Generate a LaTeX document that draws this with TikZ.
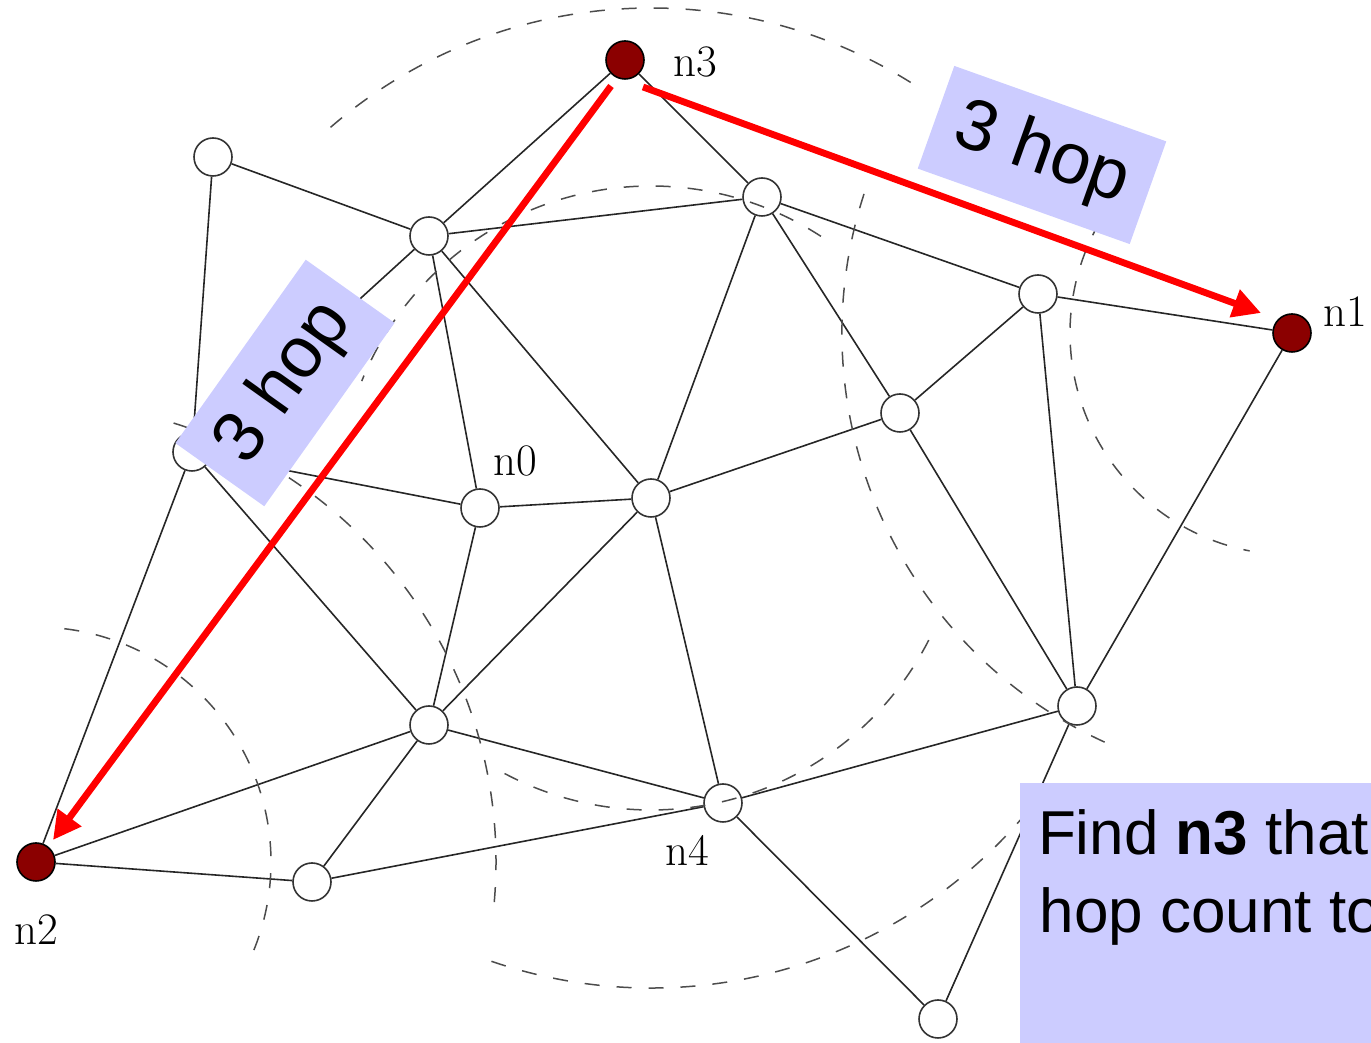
\documentclass[tikz,border=0pt]{standalone}
\usepackage{fontspec}
\usetikzlibrary{arrows.meta,calc}
\newfontfamily\sansA{Liberation Sans}
\definecolor{boxblue}{RGB}{204,204,255}
\definecolor{darkred}{RGB}{139,0,0}
\newcommand\hopfont{\sansA\fontsize{36}{40}\selectfont}
\newcommand\qfont{\sansA\fontsize{31}{39}\selectfont}
\newcommand\lblfont{\fontsize{22.5}{27}\selectfont}
\tikzset{
  relay/.style={circle, draw=black!80, line width=0.8pt, fill=white, minimum size=19pt, inner sep=0pt},
  anchornode/.style={relay, fill=darkred, draw=black},
  link/.style={line width=0.8pt, draw=black!85},
  ring/.style={line width=0.75pt, draw=black!70, dash pattern=on 7.5pt off 8.5pt},
  hoparrow/.style={line width=3.4pt, draw=red, -{Triangle[length=14pt,width=14pt]}},
  hopbox/.style={fill=boxblue, minimum width=112.5pt, minimum height=54.5pt, inner sep=0pt, font=\hopfont},
  lbl/.style={font=\lblfont, inner sep=0pt},
}
\begin{document}
\begin{tikzpicture}[x=0.5pt,y=0.5pt]
\path[use as bounding box] (0,0) rectangle (1371,1043);
\clip (0,0) rectangle (1371,1043);

% nodes
\node[anchornode] (n3) at (625,983) {};
\node[anchornode] (n1) at (1292,710) {};
\node[anchornode] (n2) at (36,181) {};
\node[relay] (n0) at (480,535) {};
\node[relay] (n4) at (723,240) {};
\node[relay] (a) at (213,886) {};
\node[relay] (b) at (429,807) {};
\node[relay] (c) at (762,846) {};
\node[relay] (d) at (1038,749) {};
\node[relay] (e) at (900,630) {};
\node[relay] (f) at (192,591) {};
\node[relay] (g) at (651,545) {};
\node[relay] (h) at (429,318) {};
\node[relay] (i) at (1077,337) {};
\node[relay] (j) at (312,161) {};
\node[relay] (k) at (938,24) {};

% links
\foreach \u/\v in {a/b, a/f, b/n3, b/c, b/f, b/n0, b/g, n3/c, c/d, c/e, c/g,
                   d/n1, d/e, d/i, n1/i, e/g, e/i, f/n0, f/h, f/n2, n0/g, n0/h,
                   g/h, g/n4, h/n2, h/j, h/n4, n2/j, j/n4, n4/i, n4/k, i/k}
  \draw[link] (\u) -- (\v);

% range rings
\draw[ring] ([shift={(57:312)}]g.center) arc[start angle=57, end angle=158, radius=312];
\draw[ring] ([shift={(242:312)}]g.center) arc[start angle=242, end angle=334, radius=312];
\draw[ring] ([shift={(58:490)}]g.center) arc[start angle=58, end angle=132, radius=490];
\draw[ring] ([shift={(251:490)}]g.center) arc[start angle=251, end angle=322, radius=490];
\draw[ring] ([shift={(162:450)}]n1.center) arc[start angle=162, end angle=247, radius=450];
\draw[ring] ([shift={(150:222)}]n1.center) arc[start angle=150, end angle=259, radius=222];
\draw[ring] ([shift={(-22:235)}]n2.center) arc[start angle=-22, end angle=87, radius=235];
\draw[ring] ([shift={(-5:460)}]n2.center) arc[start angle=-5, end angle=74, radius=460];

% red hop arrows
\coordinate (s1) at ($(n3)+(18,-27)$);
\coordinate (e1) at ($(n1)+(-31,20)$);
\coordinate (s2) at ($(n3)+(-14,-26)$);
\coordinate (e2) at ($(n2)+(17,22)$);
\draw[hoparrow] (s1) -- (e1);
\draw[hoparrow] (s2) -- (e2);

% hop boxes
\node[hopbox, rotate=-19.6] (hop1) at (1042,888) {3 hop};
\node[hopbox, rotate=54.6] (hop2) at (285,660) {3 hop};

% question box
\node[fill=boxblue, anchor=north west, minimum width=200pt, minimum height=150pt, inner sep=0pt] (qbox) at (1020,260) {};
\node[anchor=base west, inner sep=0pt, font=\qfont] (q1) at (1037.7,188) {Find \textbf{n3} that};
\node[anchor=base west, inner sep=0pt, font=\qfont] (q2) at (1039.2,110) {hop count to};

% labels
\node[lbl] (l3) at (695,981) {n3};
\node[lbl] (l1) at (1345,731) {n1};
\node[lbl] (l0) at (515,582) {n0};
\node[lbl] (l2) at (36,113) {n2};
\node[lbl] (l4) at (687,193) {n4};
\end{tikzpicture}
\end{document}
